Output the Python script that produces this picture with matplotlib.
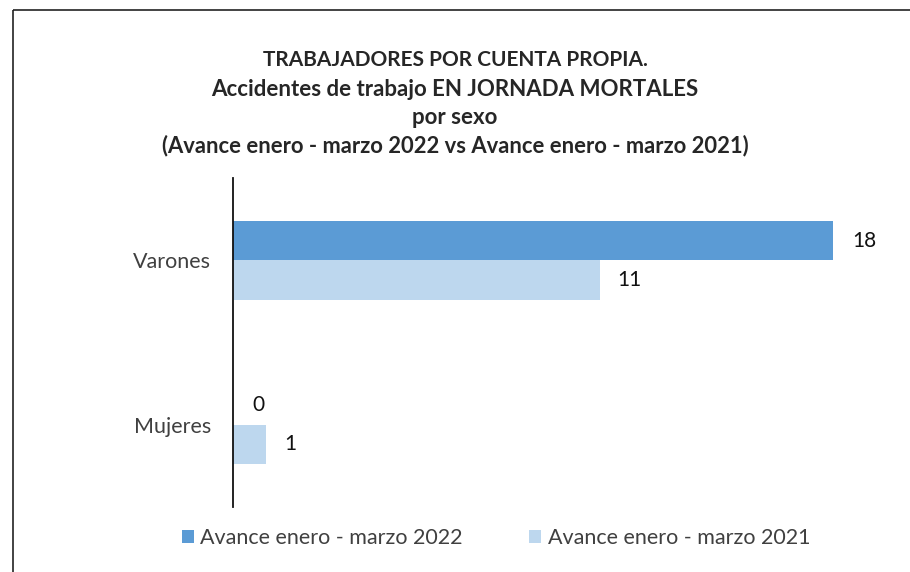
import matplotlib
matplotlib.use('Agg')
import matplotlib.pyplot as plt
import numpy as np
from matplotlib.patches import Rectangle

categories = ['Varones', 'Mujeres']
series_names = ['Avance enero - marzo 2022', 'Avance enero - marzo 2021']
values_2022 = [18, 0]
values_2021 = [11, 1]
colors = ['#5B9BD5', '#BDD7EE']
title_lines = ['TRABAJADORES POR CUENTA PROPIA.',
               'Accidentes de trabajo EN JORNADA MORTALES',
               'por sexo',
               '(Avance enero - marzo 2022 vs Avance enero - marzo 2021)']

plt.rcParams['font.family'] = ['Lato', 'DejaVu Sans']

W, H = 910, 572
fig = plt.figure(figsize=(W / 100, H / 100), dpi=100)
# outer border (right and bottom edges fall off the image)
fig.patches.append(Rectangle((13 / W, 1 - 10 / H), 1.0, -1.2, transform=fig.transFigure,
                             fill=False, edgecolor='#222222', linewidth=1.2))

ax = fig.add_axes([233 / W, 1 - 507 / H, (833 - 233) / W, (507 - 178) / H])
y = np.arange(len(categories))
h = 0.24
ax.barh(y - h / 2, values_2022, height=h, color=colors[0], label=series_names[0])
ax.barh(y + h / 2, values_2021, height=h, color=colors[1], label=series_names[1])
for yi, v in zip(y, values_2022):
    ax.annotate(str(v), (v, yi - h / 2), xytext=(14, 0), textcoords='offset points',
                va='center', ha='left', fontsize=15, color='#111111')
for yi, v in zip(y, values_2021):
    ax.annotate(str(v), (v, yi + h / 2), xytext=(13, 0), textcoords='offset points',
                va='center', ha='left', fontsize=15, color='#111111')

ax.set_xlim(0, 18)
ax.set_ylim(1.5, -0.5)
ax.set_yticks(y)
ax.set_yticklabels(categories, fontsize=15.5, color='#404040')
ax.tick_params(axis='y', length=0, pad=16)
ax.set_xticks([])
for s in ['top', 'right', 'bottom']:
    ax.spines[s].set_visible(False)
ax.spines['left'].set_linewidth(1.3)
ax.spines['left'].set_color('#111111')

ys = [60, 89, 118, 146]
sizes = [15, 16, 16, 15.8]
for t, yy, fs in zip(title_lines, ys, sizes):
    fig.text(455 / W, 1 - yy / H, t, ha='center', va='center', fontsize=fs,
             fontweight='bold', color='#262626')

leg = fig.legend(loc='center', bbox_to_anchor=(496 / W, 1 - 538 / H), ncol=2, frameon=False,
                 fontsize=15.5, handlelength=0.55, handleheight=0.55, handletextpad=0.3,
                 columnspacing=3.1, borderpad=0, borderaxespad=0)
for t in leg.get_texts():
    t.set_color('#404040')

fig.savefig('out.png', dpi=100)
